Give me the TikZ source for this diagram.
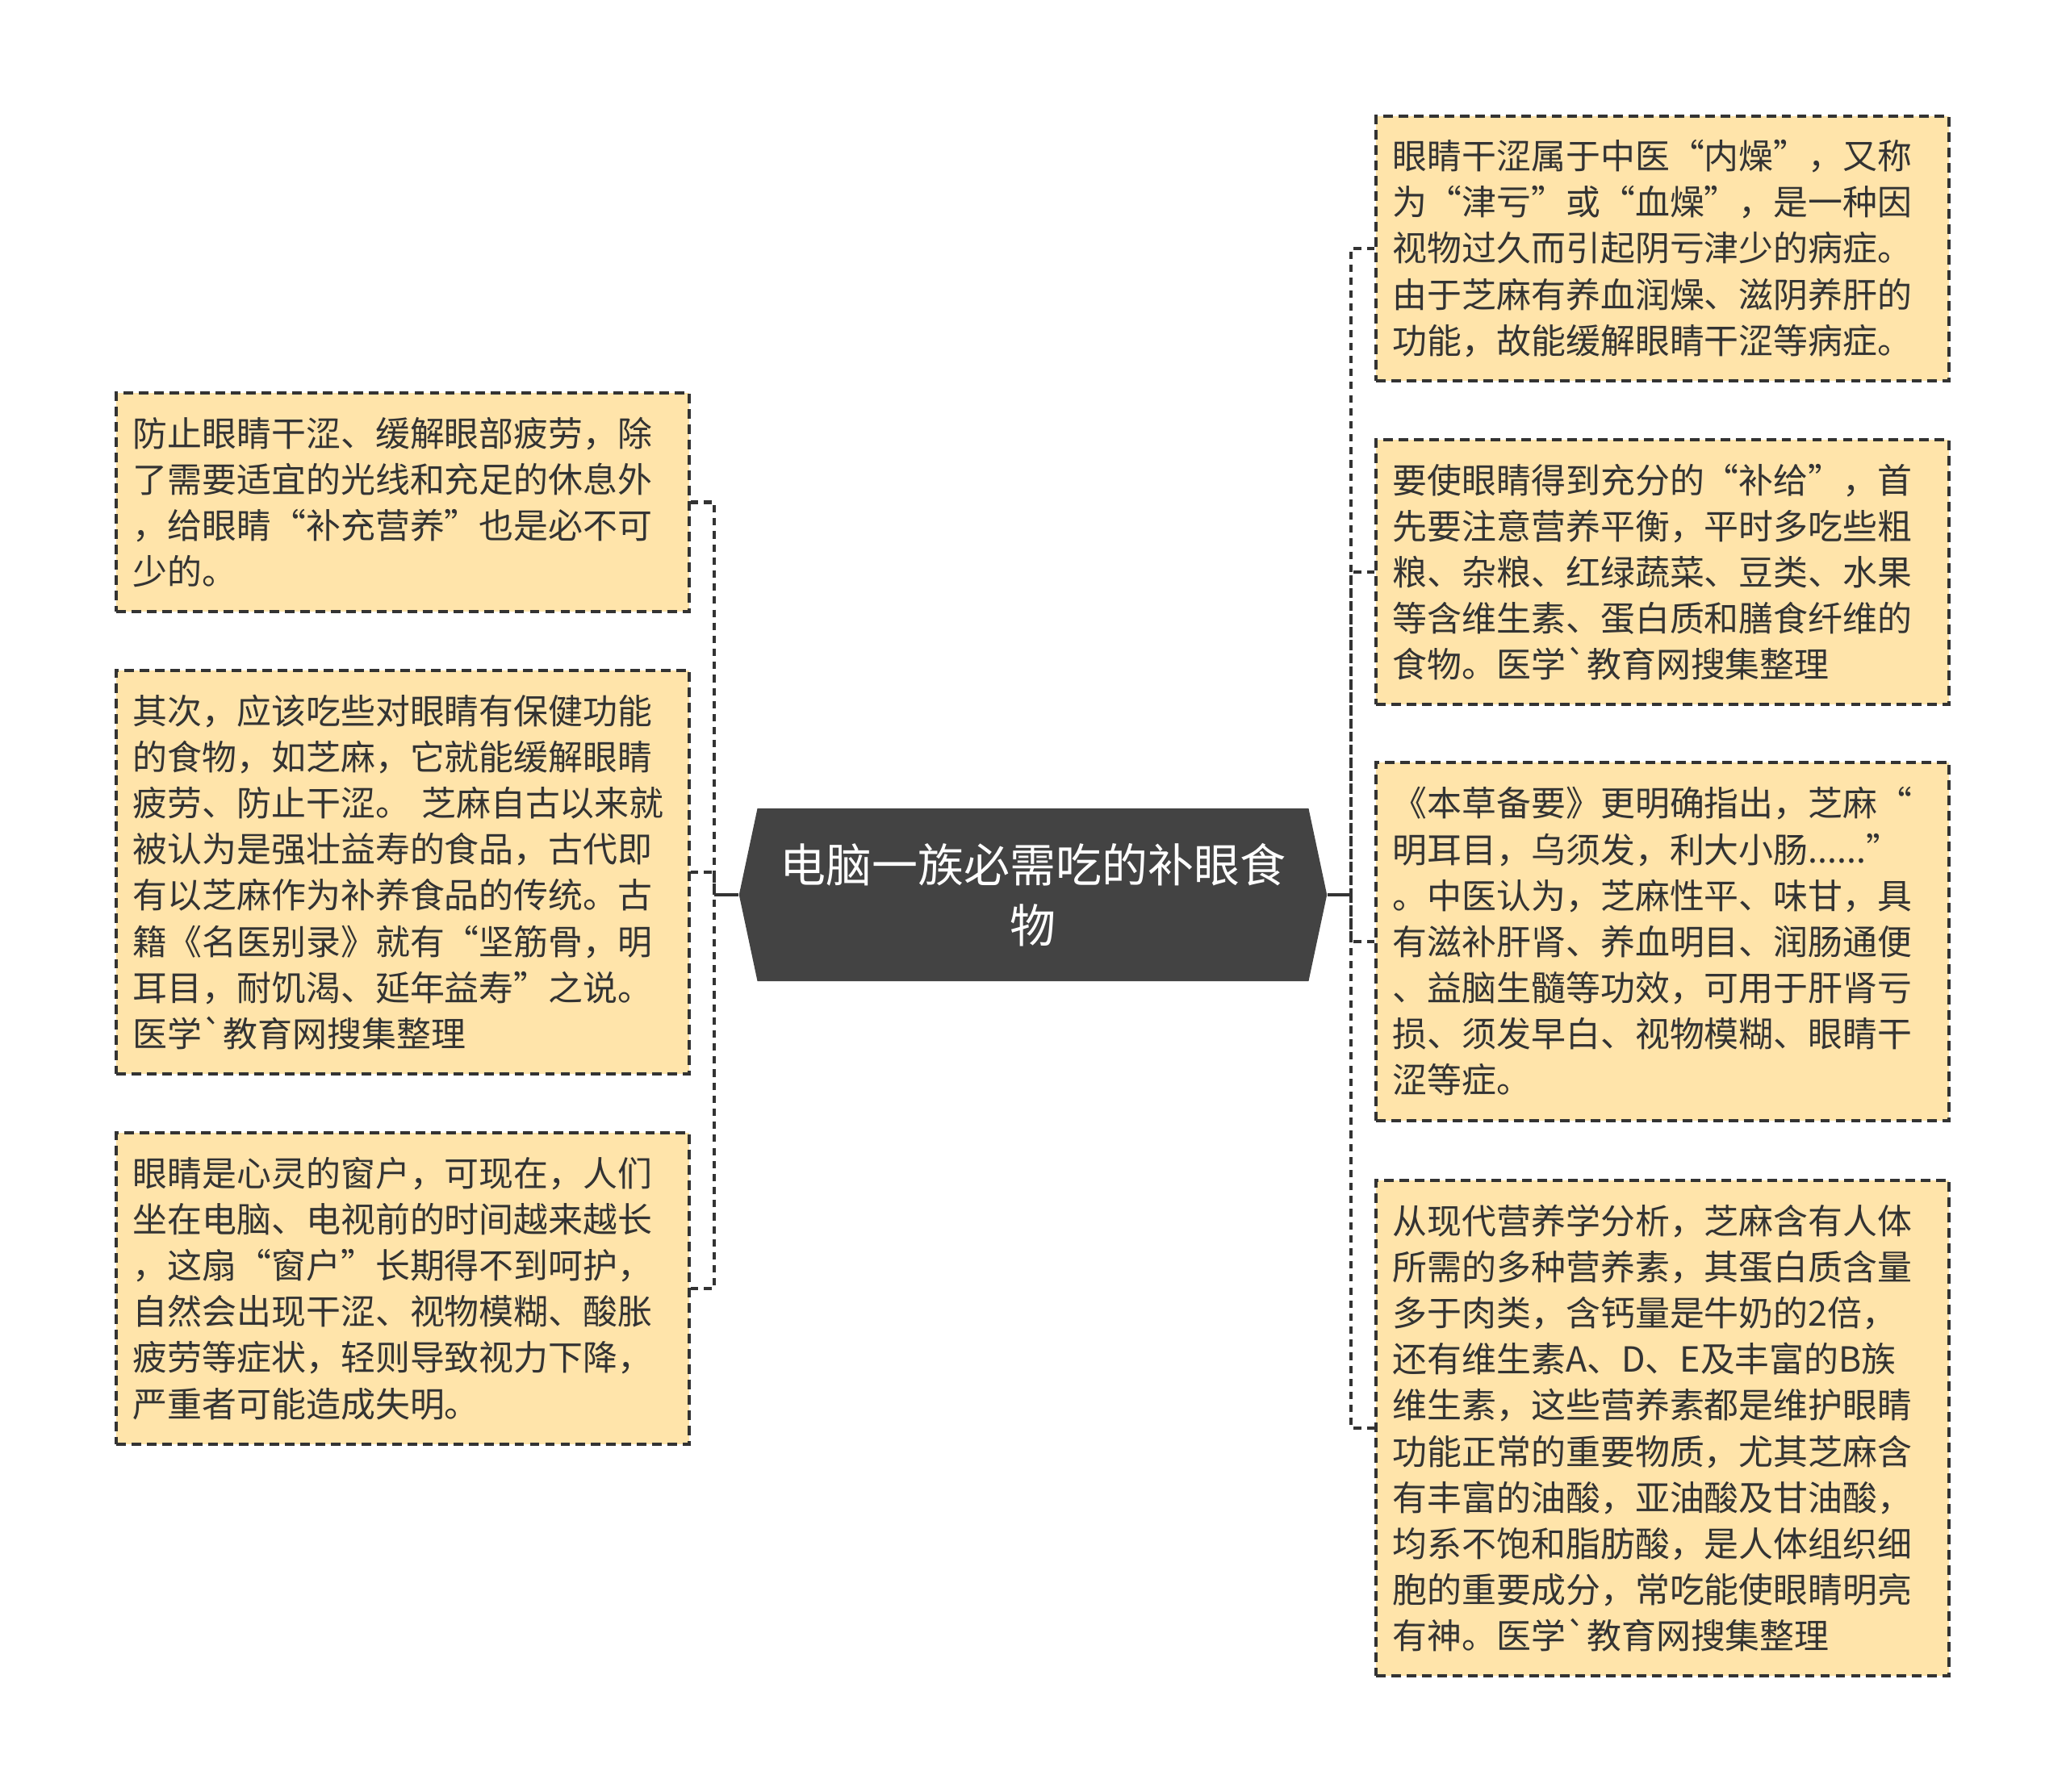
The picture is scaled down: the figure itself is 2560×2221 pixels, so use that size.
\documentclass[tikz,border=0pt]{standalone}
\usepackage{fontspec}
\usepackage{tikz}
\usetikzlibrary{shapes.symbols}
\newfontfamily\cjk{Noto Sans CJK SC}
\definecolor{leaffill}{RGB}{255,228,170}
\definecolor{inkgray}{RGB}{51,51,51}
\definecolor{hubgray}{RGB}{67,67,67}

\begin{document}
\begin{tikzpicture}[x=0.01cm, y=-0.01cm,
	leaf/.style={draw=inkgray, fill=leaffill, line width=1.15pt, dash pattern=on 3.4pt off 2pt,
		text=inkgray, font=\cjk\fontsize{12.2pt}{16.25pt}\selectfont, align=left,
		text width=6.68cm, inner xsep=0.21cm, inner ysep=0pt, minimum width=7.1cm},
	hub/.style={signal, signal to=west and east, signal pointer angle=156, fill=hubgray,
		text=white, font=\cjk\fontsize{16.2pt}{21.3pt}\selectfont, align=center,
		minimum width=7.28cm, minimum height=2.14cm, inner sep=0pt},
	twig/.style={draw=inkgray, line width=1.3pt, dash pattern=on 2.6pt off 2pt},
	stem/.style={draw=inkgray, line width=1.3pt}]
	\useasboundingbox (0,0) rectangle (2560,2221);

	\node[hub] (hub) at (1280,1109) {电脑一族必需吃的补眼食\\物};

	\node[leaf, minimum height=2.71cm] (l1) at (499,622.5) {防止眼睛干涩、缓解眼部疲劳，除\\了需要适宜的光线和充足的休息外\\，给眼睛“补充营养”也是必不可\\少的。};
	\node[leaf, minimum height=5.00cm] (l2) at (499,1081) {其次，应该吃些对眼睛有保健功能\\的食物，如芝麻，它就能缓解眼睛\\疲劳、防止干涩。 芝麻自古以来就\\被认为是强壮益寿的食品，古代即\\有以芝麻作为补养食品的传统。古\\籍《名医别录》就有“坚筋骨，明\\耳目，耐饥渴、延年益寿”之说。\\医学\textasciigrave 教育网搜集整理};
	\node[leaf, minimum height=3.86cm] (l3) at (499,1597) {眼睛是心灵的窗户，可现在，人们\\坐在电脑、电视前的时间越来越长\\，这扇“窗户”长期得不到呵护，\\自然会出现干涩、视物模糊、酸胀\\疲劳等症状，轻则导致视力下降，\\严重者可能造成失明。};

	\node[leaf, minimum height=3.28cm] (r1) at (2060,308) {眼睛干涩属于中医“内燥”，又称\\为“津亏”或“血燥”，是一种因\\视物过久而引起阴亏津少的病症。\\由于芝麻有养血润燥、滋阴养肝的\\功能，故能缓解眼睛干涩等病症。};
	\node[leaf, minimum height=3.28cm] (r2) at (2060,709) {要使眼睛得到充分的“补给”，首\\先要注意营养平衡，平时多吃些粗\\粮、杂粮、红绿蔬菜、豆类、水果\\等含维生素、蛋白质和膳食纤维的\\食物。医学\textasciigrave 教育网搜集整理};
	\node[leaf, minimum height=4.44cm] (r3) at (2060,1167) {《本草备要》更明确指出，芝麻“\\明耳目，乌须发，利大小肠......”\\。中医认为，芝麻性平、味甘，具\\有滋补肝肾、养血明目、润肠通便\\、益脑生髓等功效，可用于肝肾亏\\损、须发早白、视物模糊、眼睛干\\涩等症。};
	\node[leaf, minimum height=6.14cm] (r4) at (2060,1770) {从现代营养学分析，芝麻含有人体\\所需的多种营养素，其蛋白质含量\\多于肉类，含钙量是牛奶的2倍，\\还有维生素A、D、E及丰富的B族\\维生素，这些营养素都是维护眼睛\\功能正常的重要物质，尤其芝麻含\\有丰富的油酸，亚油酸及甘油酸，\\均系不饱和脂肪酸，是人体组织细\\胞的重要成分，常吃能使眼睛明亮\\有神。医学\textasciigrave 教育网搜集整理};

	\coordinate (lj) at (885,1109);
	\coordinate (rj) at (1674,1109);
	\draw[stem] (hub.west) -- (lj);
	\draw[stem] (hub.east) -- (rj);
	\foreach \n in {l1,l2,l3}
	{
		\draw[twig] (\n.east) -| (lj);
	}
	\foreach \n in {r1,r2,r3,r4}
	{
		\draw[twig] (\n.west) -| (rj);
	}
\end{tikzpicture}
\end{document}
